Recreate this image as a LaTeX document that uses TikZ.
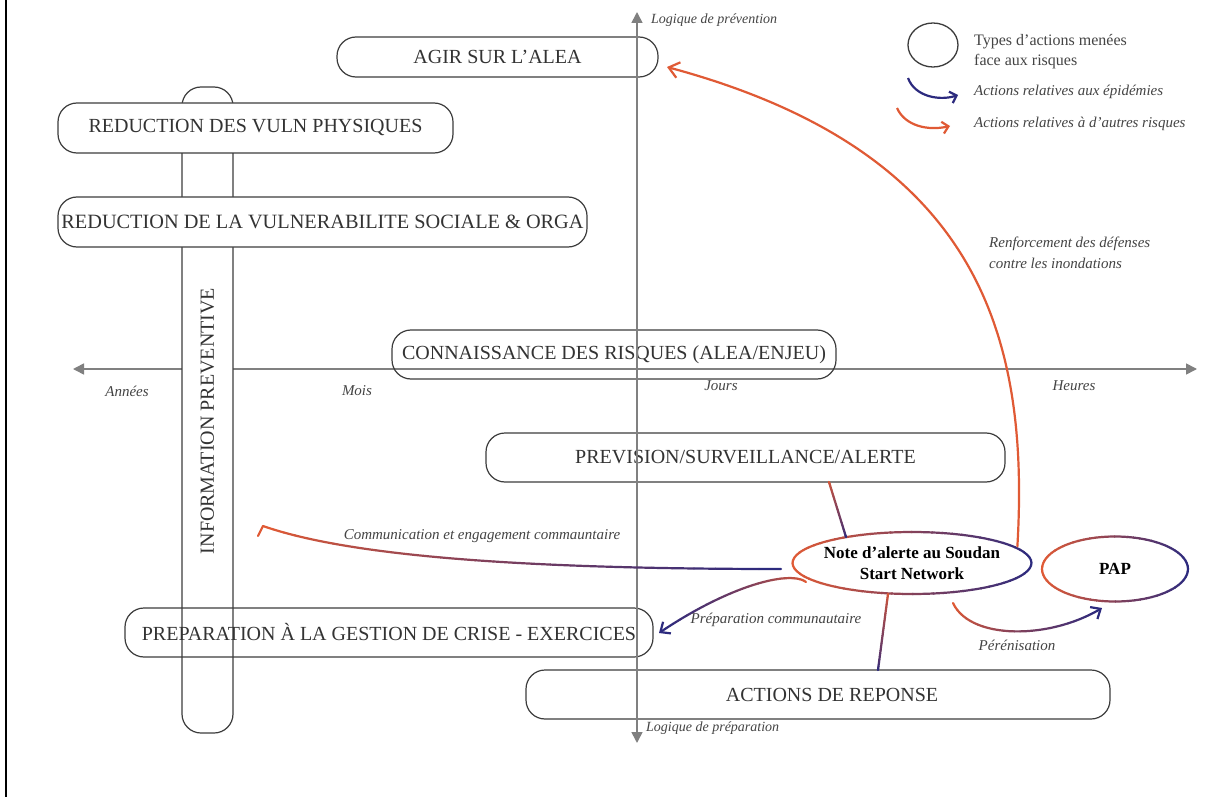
\documentclass[tikz,border=0pt]{standalone}
\usepackage{fontspec}
\setmainfont{Liberation Serif}
\usetikzlibrary{arrows.meta,shapes.geometric}
\definecolor{orng}{HTML}{E05A35}
\definecolor{navy}{HTML}{2C2A7E}
\definecolor{axisgray}{HTML}{808080}
\definecolor{boxline}{HTML}{3C3C3C}
\definecolor{txtgray}{HTML}{333333}
\definecolor{labgray}{HTML}{444444}

\newcommand\gradarrow[1]{\def\gtmp{#1}\ifx\gtmp\empty\else\pgfsetarrowsend{#1}\fi}
\newcommand\gradcurve[7]{%
  \foreach \gi in {0,...,29}{%
    \pgfmathsetmacro\gta{\gi/30}%
    \pgfmathsetmacro\gtb{(\gi+1)/30}%
    \pgfmathtruncatemacro\gpc{round(100*\gi/29)}%
    \begin{pgfscope}%
      \pgfsetcolor{#6!\gpc!#5}%
      \pgfsetlinewidth{2.2pt}%
      \pgfsetroundcap
      \ifnum\gi=29\relax\gradarrow{#7}\fi
      \pgfpathcurvebetweentime{\gta}{\gtb}{\pgfpointanchor{#1}{center}}{\pgfpointanchor{#2}{center}}{\pgfpointanchor{#3}{center}}{\pgfpointanchor{#4}{center}}%
      \pgfusepath{stroke}%
    \end{pgfscope}%
  }%
}
\newcommand\gradellipse[3]{%
  \foreach \ga in {0,5,...,355}{%
    \pgfmathtruncatemacro\gpc{round(50-50*cos(\ga+2.5))}%
    \draw[line width=2.2pt, draw=orng!\gpc!navy] (#1.center) ++(\ga:#2 and #3) arc[start angle=\ga, delta angle=5.6, x radius=#2, y radius=#3];
  }%
}

\begin{document}
\begin{tikzpicture}[x=1pt,y=-1pt,
  actbox/.style={draw=boxline, line width=1.2pt, rounded corners=19pt, inner sep=0pt,
     font=\fontsize{20}{24}\selectfont, text=txtgray},
  boxtxt/.style={font=\fontsize{20}{24}\selectfont, text=txtgray, inner sep=0pt},
  axisline/.style={draw=axisgray, line width=1.6pt},
  axlbl/.style={font=\itshape\fontsize{15}{18}\selectfont, text=labgray, inner sep=0pt},
  itlbl/.style={font=\itshape\fontsize{15}{21}\selectfont, text=labgray, inner sep=0pt, align=left},
  lgtxt/.style={font=\fontsize{16}{20}\selectfont, text=labgray, inner sep=0pt, align=left, anchor=west},
  bold/.style={font=\bfseries\fontsize{17}{21}\selectfont, text=black, align=center},
  tipbig/.style={-{Straight Barb[length=10pt,width=16pt]}}
]
\useasboundingbox (0,0) rectangle (1211,797);
\fill[white] (0,0) rectangle (1211,797);
\coordinate (bt) at (6,0); \coordinate (bb) at (6,797);
\draw[black, line width=2pt] (bt) -- (bb);

% horizontal axis
\coordinate (hL) at (73,369); \coordinate (hR) at (1197,369);
\draw[axisline, {Triangle[length=11pt,width=11pt]}-{Triangle[length=11pt,width=11pt]}] (hL) -- (hR);

% boxes
\node[actbox, fill=white, minimum width=646pt, minimum height=51pt, rotate=90] (info) at (207.5,410) {};
\node[boxtxt, rotate=90] (infotxt) at (207.5,421) {INFORMATION PREVENTIVE};
\node[actbox, fill=white, minimum width=395pt, minimum height=50pt] (rphys) at (255.5,128) {REDUCTION DES VULN PHYSIQUES};
\node[actbox, fill=white, minimum width=529pt, minimum height=50pt, font=\fontsize{20.3}{24}\selectfont] (rsoc) at (322.5,222) {REDUCTION DE LA VULNERABILITE SOCIALE \& ORGA};
\node[actbox, minimum width=321pt, minimum height=40pt] (agir) at (497.5,57) {AGIR SUR L’ALEA};
\node[actbox, minimum width=444pt, minimum height=49pt] (conn) at (614,354.5) {CONNAISSANCE DES RISQUES (ALEA/ENJEU)};
\node[actbox, minimum width=519pt, minimum height=49pt] (prev) at (745.5,457.5) {PREVISION/SURVEILLANCE/ALERTE};
\node[actbox, minimum width=528pt, minimum height=49pt] (prep) at (389,632.5) {PREPARATION À LA GESTION DE CRISE - EXERCICES};
\node[actbox, minimum width=584pt, minimum height=49pt] (acts) at (818,694.5) {};
\node[boxtxt] (actstxt) at (832,694.5) {ACTIONS DE REPONSE};

% vertical axis
\coordinate (vT) at (637,12); \coordinate (vB) at (637,743);
\draw[axisline, {Triangle[length=11pt,width=11pt]}-{Triangle[length=11pt,width=11pt]}] (vB) -- (vT);

% axis labels
\node[axlbl, anchor=west, font=\itshape\fontsize{14}{16}\selectfont] (lprev) at (651,20) {Logique de prévention};
\node[axlbl, anchor=west, font=\itshape\fontsize{14}{16}\selectfont] (lprep) at (646,728) {Logique de préparation};
\node[axlbl] (lann) at (127,391) {Années};
\node[axlbl] (lmois) at (357,391) {Mois};
\node[axlbl] (ljours) at (721,386) {Jours};
\node[axlbl] (lheures) at (1074,386) {Heures};

% ellipses
\node[ellipse, minimum width=239pt, minimum height=62pt, inner sep=0pt, bold] (note) at (912,563) {Note d’alerte au Soudan\\Start Network};
\gradellipse{note}{119.5pt}{31pt}
\node[ellipse, minimum width=146pt, minimum height=65pt, inner sep=0pt, bold] (pap) at (1115,569) {PAP};
\gradellipse{pap}{73pt}{32.5pt}

% Note -> AGIR (orange)
\coordinate (a3) at (667,67);
\draw[orng, line width=2.2pt, line cap=round, tipbig] (note.9) .. controls (1030,330) and (975,150) .. (a3);
\node[itlbl, anchor=west] (lrenf) at (989,253) {Renforcement des défenses\\contre les inondations};

% Note -> PREVISION
\coordinate (p0) at (846,537); \coordinate (p1) at (829,482);
\gradcurve{p1}{p1}{p0}{p0}{orng}{navy}{}
% Note -> ACTIONS
\coordinate (r0) at (888,594); \coordinate (r1) at (878,670);
\gradcurve{r0}{r0}{r1}{r1}{orng}{navy}{}

% Communication
\coordinate (c0) at (781,569); \coordinate (c1) at (560,569);
\coordinate (c2) at (360,560); \coordinate (c3) at (263,526);
\coordinate (ct) at (258,536);
\gradcurve{c0}{c1}{c2}{c3}{navy}{orng}{}
\draw[orng, line width=2.2pt, line cap=round] (c3) -- (ct);
\node[itlbl] (lcomm) at (482,536) {Communication et engagement commauntaire};

% Preparation communautaire
\coordinate (q0) at (806,582); \coordinate (q1) at (790,570);
\coordinate (q2) at (730,585); \coordinate (q3) at (659,633);
\gradcurve{q0}{q1}{q2}{q3}{orng}{navy}{Straight Barb[length=8pt,width=14pt]}
\node[itlbl] (lprc) at (776,620) {Préparation communautaire};

% Perenisation
\coordinate (s0) at (953,603); \coordinate (s1) at (970,640);
\coordinate (s2) at (1050,640); \coordinate (s3) at (1102,608);
\gradcurve{s0}{s1}{s2}{s3}{orng}{navy}{Straight Barb[length=8pt,width=14pt]}
\node[itlbl] (lper) at (1017,645) {Pérénisation};

% legend
\node[ellipse, draw=boxline, line width=1.3pt, minimum width=50pt, minimum height=44pt, inner sep=0pt] (legell) at (933,45) {};
\node[lgtxt] (lg1) at (974,52) {Types d’actions menées\\face aux risques};
\coordinate (la0) at (908,78); \coordinate (la1) at (958,95);
\draw[navy, line width=2.2pt, -{Straight Barb[length=6pt,width=12pt]}] (la0) .. controls (915,97) and (940,101) .. (la1);
\node[itlbl, anchor=west] (lg2) at (974,92) {Actions relatives aux épidémies};
\coordinate (lb0) at (897,108); \coordinate (lb1) at (950,126);
\draw[orng, line width=2.2pt, -{Straight Barb[length=6pt,width=12pt]}] (lb0) .. controls (905,126) and (928,131) .. (lb1);
\node[itlbl, anchor=west] (lg3) at (974,124) {Actions relatives à d’autres risques};
\end{tikzpicture}
\end{document}
